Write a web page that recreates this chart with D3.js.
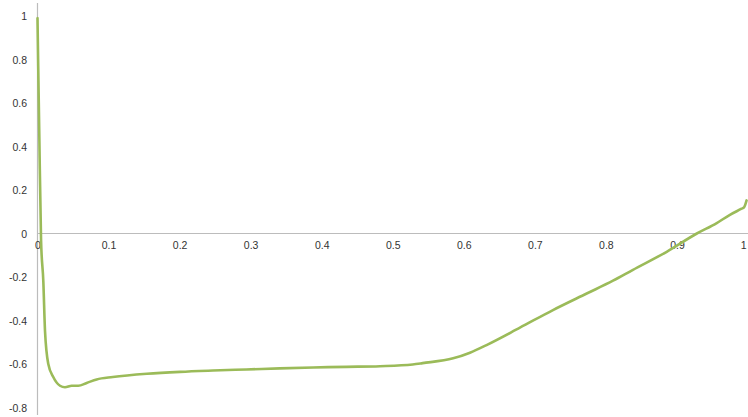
<!DOCTYPE html>
<html>
<head>
<meta charset="utf-8">
<script src="https://cdn.jsdelivr.net/npm/d3@7"></script>
<style>
  html, body { margin: 0; padding: 0; background: #ffffff; }
  svg { display: block; }
  .tick text { font-family: "Liberation Sans", Arial, sans-serif; font-size: 10.5px; fill: #333333; }
</style>
</head>
<body>
<svg id="chart" width="748" height="417"></svg>
<script>
// Sampled curve
const xValues = [0, 0.001, 0.0025, 0.005, 0.0082, 0.0106, 0.0152, 0.0222, 0.0317, 0.0387,
  0.0481, 0.0574, 0.0692, 0.0833, 0.106, 0.154, 0.2006, 0.247, 0.294, 0.341,
  0.388, 0.435, 0.482, 0.528, 0.542, 0.585, 0.6087, 0.632, 0.679, 0.7255,
  0.773, 0.81, 0.8375, 0.8856, 0.928, 0.956, 0.974, 0.991, 0.9944, 0.998];
const yValues = [0.99, 0.77, 0.46, -0.03, -0.22, -0.45, -0.60, -0.66, -0.70, -0.707,
  -0.70, -0.70, -0.687, -0.671, -0.66, -0.645, -0.636, -0.63, -0.625, -0.62,
  -0.616, -0.613, -0.61, -0.602, -0.596, -0.574, -0.548, -0.513, -0.433, -0.352,
  -0.276, -0.217, -0.168, -0.084, 0, 0.048, 0.085, 0.114, 0.12, 0.152];

// Axis tick labels
const xTicks = [0, 0.1, 0.2, 0.3, 0.4, 0.5, 0.6, 0.7, 0.8, 0.9, 1];
const yTicks = [-0.8, -0.6, -0.4, -0.2, 0, 0.2, 0.4, 0.6, 0.8, 1];

const svg = d3.select("#chart");
const x = d3.scaleLinear().domain([0, 1]).range([37.5, 748]);
const y = d3.scaleLinear().domain([-0.8, 1]).range([407.5, 16]);
const fmt = d => String(d);

// Vertical axis line spans the full plot area
svg.append("line")
  .attr("x1", x(0)).attr("x2", x(0))
  .attr("y1", 3).attr("y2", 415)
  .attr("stroke", "#bcbcbc").attr("stroke-width", 1.2);

// Horizontal axis line at zero
svg.append("line")
  .attr("x1", x(0)).attr("x2", x(1))
  .attr("y1", y(0)).attr("y2", y(0))
  .attr("stroke", "#bcbcbc").attr("stroke-width", 1.2);

// Y tick labels
const yAxis = svg.append("g")
  .attr("transform", `translate(${x(0) - 10.5},0)`)
  .call(d3.axisLeft(y).tickValues(yTicks).tickFormat(fmt).tickSize(0).tickPadding(0));
yAxis.select(".domain").remove();
yAxis.selectAll("text").attr("dy", "0.35em");

// X tick labels, hanging just below the zero line
const xAxis = svg.append("g")
  .attr("transform", `translate(0,${y(0)})`)
  .call(d3.axisBottom(x).tickValues(xTicks).tickFormat(fmt).tickSize(0).tickPadding(8));
xAxis.select(".domain").remove();
// keep the last label inside the right edge
xAxis.selectAll(".tick text").filter(d => d === 1)
  .attr("text-anchor", "end").attr("dx", "-2");

// The series line
const pts = xValues.map((v, i) => [v, yValues[i]]);
svg.append("path")
  .datum(pts)
  .attr("fill", "none")
  .attr("stroke", "#9bbb59")
  .attr("stroke-width", 2.6)
  .attr("stroke-linejoin", "round")
  .attr("stroke-linecap", "round")
  .attr("d", d3.line().x(d => x(d[0])).y(d => y(d[1])).curve(d3.curveMonotoneX));
</script>
</body>
</html>
